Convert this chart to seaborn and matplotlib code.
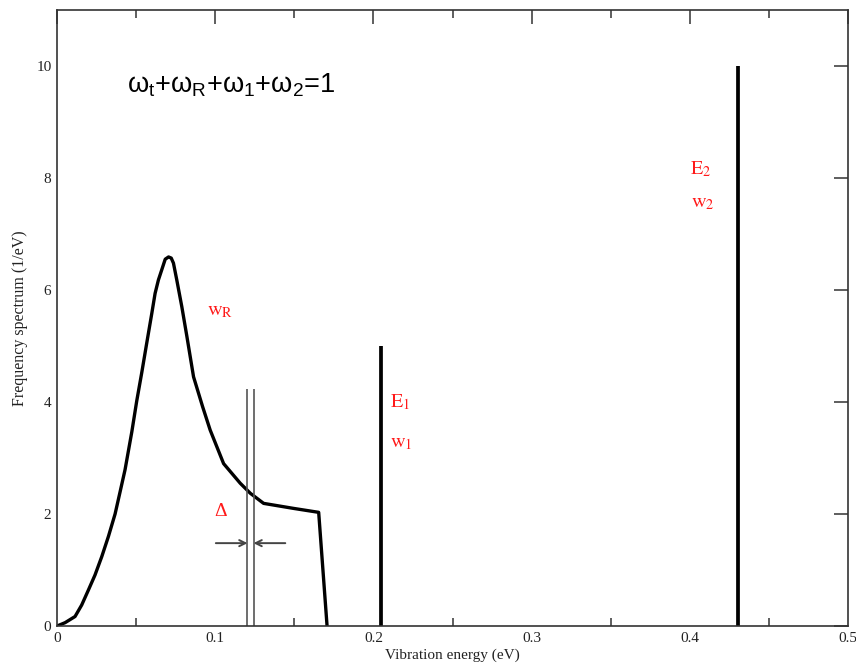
import matplotlib
matplotlib.use("Agg")
import matplotlib.pyplot as plt
import seaborn as sns
import pandas as pd

# ---- data ----
energy = [0.0, 0.0051, 0.0114, 0.0156, 0.0198, 0.024, 0.0283, 0.0325, 0.0367, 0.0399,
          0.043, 0.0473, 0.0504, 0.0536, 0.0567, 0.0599, 0.062, 0.0641, 0.0662, 0.0684,
          0.0705, 0.0722, 0.0736, 0.0757, 0.0789, 0.0821, 0.0863, 0.092, 0.0968, 0.1053,
          0.1158, 0.1222, 0.1306, 0.1496, 0.1654, 0.1707]
spectrum = [0.0, 0.06, 0.17, 0.375, 0.64, 0.91, 1.24, 1.6, 2.0, 2.4,
            2.79, 3.47, 4.02, 4.53, 5.05, 5.58, 5.94, 6.18, 6.36, 6.55,
            6.59, 6.57, 6.48, 6.18, 5.70, 5.17, 4.45, 3.92, 3.5, 2.90,
            2.55, 2.37, 2.19, 2.10, 2.03, 0.0]
line_pos = [0.2045, 0.4306]      # E1, E2
line_height = [5.0, 10.0]
delta_lines = [0.1204, 0.1242]
delta_height = 4.24
xticks = [0.0, 0.1, 0.2, 0.3, 0.4, 0.5]
xtick_labels = ["0", "0.1", "0.2", "0.3", "0.4", "0.5"]
yticks = [0, 2, 4, 6, 8, 10]
ytick_labels = ["0", "2", "4", "6", "8", "10"]

df = pd.DataFrame({"energy": energy, "spectrum": spectrum})

sns.set_theme(style="white")
plt.rcParams["font.family"] = ["Liberation Serif", "DejaVu Serif"]
plt.rcParams["mathtext.fontset"] = "custom"
plt.rcParams["mathtext.rm"] = "Liberation Sans"
plt.rcParams["mathtext.it"] = "Liberation Sans:italic"
plt.rcParams["mathtext.bf"] = "Liberation Sans:bold"

fig = plt.figure(figsize=(8.56, 6.65), dpi=100)
ax = fig.add_axes([0.0666, 0.0586, 0.9241, 0.9264])

sns.lineplot(data=df, x="energy", y="spectrum", ax=ax, color="black",
             linewidth=2.4, sort=False, estimator=None)
ax.vlines(line_pos, 0, line_height, color="black", linewidth=2.7)
ax.vlines(delta_lines, 0, delta_height, color="#555555", linewidth=1.2)

# arrows for delta
arr = dict(arrowstyle="->", color="#444444", lw=1.4, shrinkA=0, shrinkB=0, mutation_scale=11)
ax.annotate("", xy=(delta_lines[0], 1.48), xytext=(0.1004, 1.48), arrowprops=arr)
ax.annotate("", xy=(delta_lines[1], 1.48), xytext=(0.1443, 1.48), arrowprops=arr)

ax.set_xlim(0, 0.5)
ax.set_ylim(0, 11)
ax.set_xticks(xticks)
ax.set_xticklabels(xtick_labels)
ax.set_xticks([0.05, 0.15, 0.25, 0.35, 0.45], minor=True)
ax.set_yticks(yticks)
ax.set_yticklabels(ytick_labels)
ax.tick_params(which="major", direction="in", length=10, width=1.1, color="#333333",
               labelsize=11, top=True, right=True, pad=4, labelcolor="#222222")
ax.tick_params(which="minor", direction="in", length=5.5, width=1.1, color="#333333",
               top=True, bottom=True)
for s in ax.spines.values():
    s.set_visible(True)
    s.set_color("#333333")
    s.set_linewidth(1.2)

ax.set_xlabel("Vibration energy (eV)", fontsize=11, labelpad=3, color="#222222")
ax.set_ylabel("Frequency spectrum (1/eV)", fontsize=11.5, labelpad=6, color="#222222")

# annotations
ax.text(0.0443, 9.52, r"$\mathrm{\omega_t{+}\omega_R{+}\omega_1{+}\omega_2}$=1",
        fontsize=19.5, color="black", ha="left", va="baseline",
        family=["Liberation Sans", "DejaVu Sans"])
red = "#ff1a1a"
kw = dict(color=red, fontsize=14.5, ha="left", va="baseline", math_fontfamily="stix")
ax.text(0.0947, 5.55, r"$\mathrm{w_R}$", **kw)
ax.text(0.0994, 1.96, "Δ", color=red, fontsize=14, ha="left", va="baseline")
ax.text(0.2105, 3.91, r"$\mathrm{E_1}$", **kw)
ax.text(0.2105, 3.20, r"$\mathrm{w_1}$", **kw)
ax.text(0.400, 8.07, r"$\mathrm{E_2}$", **kw)
ax.text(0.401, 7.48, r"$\mathrm{w_2}$", **kw)

fig.savefig("out.png", dpi=100, facecolor="white")
